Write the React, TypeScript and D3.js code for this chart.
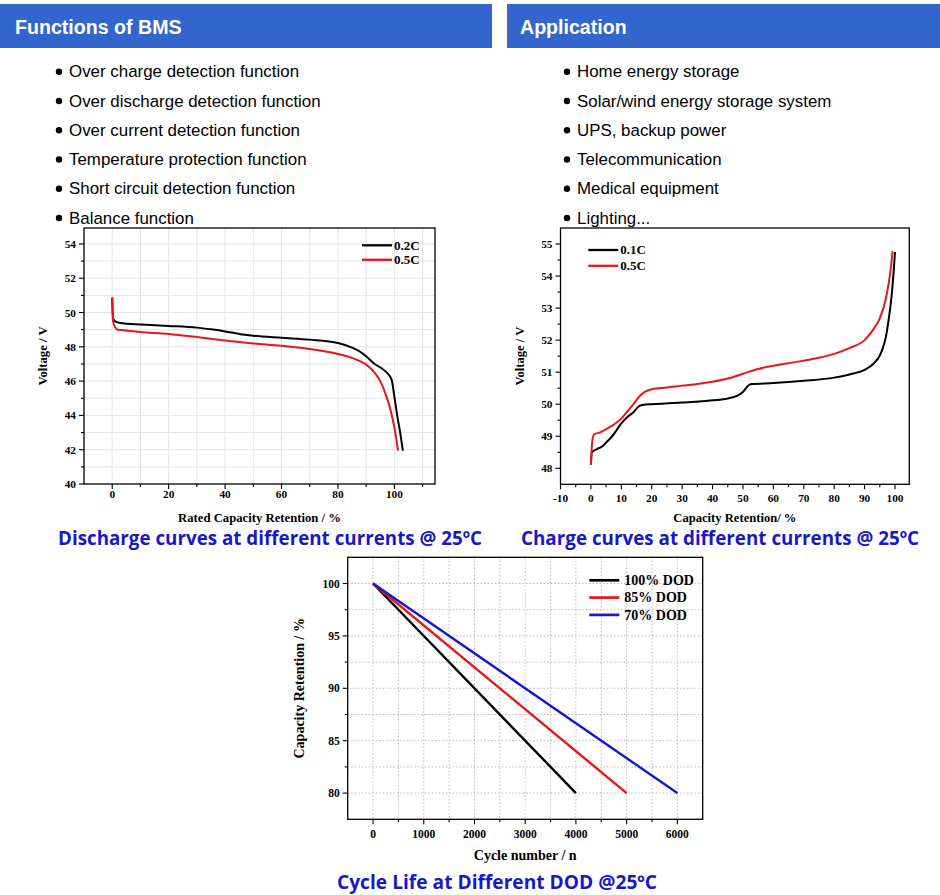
import * as d3 from 'd3'

// ---- header lists ----
const BMS_FUNCTIONS = [
  'Over charge detection function',
  'Over discharge detection function',
  'Over current detection function',
  'Temperature protection function',
  'Short circuit detection function',
  'Balance function',
]
const APPLICATIONS = [
  'Home energy storage',
  'Solar/wind energy storage system',
  'UPS, backup power',
  'Telecommunication',
  'Medical equipment',
  'Lighting...',
]

// ---- discharge curves ----
const DIS_NAMES = ['0.2C', '0.5C']
const DIS_02C_CAP = [0, 0.3, 1, 2, 5, 10, 20, 30, 35, 40, 45, 50, 60, 70, 80, 85, 88, 90, 93, 95, 97, 99, 100, 101, 102, 103]
const DIS_02C_V = [50.85, 49.65, 49.5, 49.42, 49.35, 49.3, 49.22, 49.12, 49.02, 48.9, 48.75, 48.65, 48.53, 48.42, 48.22, 47.95, 47.7, 47.45, 47.0, 46.8, 46.55, 46.1, 45.1, 44.0, 43.05, 41.95]
const DIS_05C_CAP = [0, 0.3, 1, 2, 5, 10, 20, 30, 40, 50, 60, 70, 80, 85, 88, 90, 93, 95, 97, 98.5, 100, 101.3]
const DIS_05C_V = [50.9, 49.5, 49.15, 49.0, 48.95, 48.87, 48.75, 48.57, 48.37, 48.2, 48.06, 47.87, 47.58, 47.35, 47.15, 46.96, 46.5, 46.0, 45.2, 44.4, 43.3, 41.95]
const DIS_X_MAJOR = [0, 20, 40, 60, 80, 100]
const DIS_X_MINOR = [10, 30, 50, 70, 90, 110]
const DIS_Y_MAJOR = [40, 42, 44, 46, 48, 50, 52, 54]
const DIS_Y_MINOR = [41, 43, 45, 47, 49, 51, 53]

// ---- charge curves ----
const CHG_NAMES = ['0.1C', '0.5C']
const CHG_01C_CAP = [0, 0.3, 2, 4, 5, 7, 10, 12, 14, 16, 18, 20, 30, 40, 45, 48, 50, 51, 52, 53, 60, 70, 80, 85, 90, 93, 95, 96, 97, 98, 99, 99.6, 100]
const CHG_01C_V = [48.15, 48.5, 48.6, 48.7, 48.8, 49.0, 49.4, 49.6, 49.75, 49.95, 49.99, 50.0, 50.05, 50.12, 50.18, 50.26, 50.38, 50.5, 50.6, 50.63, 50.66, 50.73, 50.83, 50.93, 51.07, 51.27, 51.52, 51.75, 52.1, 52.7, 53.5, 54.2, 54.75]
const CHG_05C_CAP = [0, 0.4, 1, 3, 5, 7, 10, 12, 14, 16, 18, 20, 25, 30, 35, 40, 45, 50, 55, 60, 65, 70, 75, 80, 85, 90, 93, 95, 97, 98.5, 99.2]
const CHG_05C_V = [48.1, 48.8, 49.05, 49.12, 49.22, 49.33, 49.55, 49.78, 50.0, 50.25, 50.4, 50.47, 50.52, 50.58, 50.63, 50.7, 50.8, 50.95, 51.1, 51.2, 51.28, 51.36, 51.45, 51.57, 51.75, 52.0, 52.35, 52.68, 53.3, 54.15, 54.78]
const CHG_X_MAJOR = [-10, 0, 10, 20, 30, 40, 50, 60, 70, 80, 90, 100]
const CHG_X_MINOR = [-5, 5, 15, 25, 35, 45, 55, 65, 75, 85, 95]
const CHG_Y_MAJOR = [48, 49, 50, 51, 52, 53, 54, 55]
const CHG_Y_MINOR = [48.5, 49.5, 50.5, 51.5, 52.5, 53.5, 54.5]

// ---- cycle life ----
const DOD_NAMES = ['100% DOD', '85% DOD', '70% DOD']
const DOD100_CYCLES = [0, 4000]
const DOD100_RET = [100, 80]
const DOD85_CYCLES = [0, 5000]
const DOD85_RET = [100, 80]
const DOD70_CYCLES = [0, 6000]
const DOD70_RET = [100, 80]
const CYC_X_MAJOR = [0, 1000, 2000, 3000, 4000, 5000, 6000]
const CYC_X_MINOR = [500, 1500, 2500, 3500, 4500, 5500]
const CYC_Y_MAJOR = [80, 85, 90, 95, 100]
const CYC_Y_MINOR = [82.5, 87.5, 92.5, 97.5]

const SERIF = "'Liberation Serif', 'Times New Roman', serif"
const SANS = "'Liberation Sans', Arial, sans-serif"
const CAPTION_FONT = "'Open Sans', 'Noto Sans', sans-serif"
const HEADER_BLUE = '#3366cc'
const CAPTION_BLUE = '#1818c8'
const BLACK = '#000000'
const RED = '#e8161b'
const BLUE = '#1515d2'

type Series = { name: string; color: string; xs: number[]; ys: number[] }

type PlotProps = {
  box: { left: number; right: number; top: number; bottom: number }
  xDomain: [number, number]
  yDomain: [number, number]
  xMajor: number[]
  xMinor: number[]
  yMajor: number[]
  yMinor: number[]
  grid: 'solid' | 'dotted' | 'none'
  series: Series[]
  curve: d3.CurveFactory
  lineWidth: number
  legend: { x: number; y: number; gap: number; size: number; textGap: number }
  xTitle: string
  yTitle: string
  xTitleY: number
  yTitleX: number
  xLabelOffset: number
  tickFont: number
  titleFont: number
}

function Plot(p: PlotProps) {
  const { box } = p
  const x = d3.scaleLinear().domain(p.xDomain).range([box.left, box.right])
  const y = d3.scaleLinear().domain(p.yDomain).range([box.bottom, box.top])
  const gridX = [...p.xMajor, ...p.xMinor].filter((v) => x(v) > box.left + 1 && x(v) < box.right - 1)
  const gridY = [...p.yMajor, ...p.yMinor].filter((v) => y(v) < box.bottom - 1 && y(v) > box.top + 1)
  const gridStyle =
    p.grid === 'solid'
      ? { stroke: '#e4e4e4', strokeWidth: 1 }
      : { stroke: '#b8b8b8', strokeWidth: 1, strokeDasharray: '1.5 2' }

  return (
    <g>
      {p.grid !== 'none' && (
        <g>
          {gridX.map((v) => (
            <line key={'gx' + v} x1={x(v)} x2={x(v)} y1={box.top} y2={box.bottom} {...gridStyle} />
          ))}
          {gridY.map((v) => (
            <line key={'gy' + v} x1={box.left} x2={box.right} y1={y(v)} y2={y(v)} {...gridStyle} />
          ))}
        </g>
      )}

      {p.series.map((s) => {
        const pts = s.xs.map((xv, i) => [xv, s.ys[i]] as [number, number])
        const line = d3
          .line<[number, number]>()
          .x((d) => x(d[0]))
          .y((d) => y(d[1]))
          .curve(p.curve)
        return (
          <path
            key={s.name}
            d={line(pts) ?? undefined}
            fill="none"
            stroke={s.color}
            strokeWidth={p.lineWidth}
            strokeLinejoin="round"
          />
        )
      })}

      <rect
        x={box.left}
        y={box.top}
        width={box.right - box.left}
        height={box.bottom - box.top}
        fill="none"
        stroke="#000"
        strokeWidth={1.3}
      />

      {p.xMajor.map((v) => (
        <g key={'xt' + v}>
          <line x1={x(v)} x2={x(v)} y1={box.bottom} y2={box.bottom + 5} stroke="#000" strokeWidth={1.1} />
          <text
            x={x(v)}
            y={box.bottom + p.xLabelOffset}
            textAnchor="middle"
            fontFamily={SERIF}
            fontWeight="bold"
            fontSize={p.tickFont}
          >
            {v}
          </text>
        </g>
      ))}
      {p.xMinor.map((v) => (
        <line key={'xm' + v} x1={x(v)} x2={x(v)} y1={box.bottom} y2={box.bottom + 3} stroke="#000" strokeWidth={1.1} />
      ))}
      {p.yMajor.map((v) => (
        <g key={'yt' + v}>
          <line x1={box.left - 5} x2={box.left} y1={y(v)} y2={y(v)} stroke="#000" strokeWidth={1.1} />
          <text
            x={box.left - 8}
            y={y(v) + 4}
            textAnchor="end"
            fontFamily={SERIF}
            fontWeight="bold"
            fontSize={p.tickFont}
          >
            {v}
          </text>
        </g>
      ))}
      {p.yMinor.map((v) => (
        <line key={'ym' + v} x1={box.left - 3} x2={box.left} y1={y(v)} y2={y(v)} stroke="#000" strokeWidth={1.1} />
      ))}

      <text
        x={(box.left + box.right) / 2}
        y={p.xTitleY}
        textAnchor="middle"
        fontFamily={SERIF}
        fontWeight="bold"
        fontSize={p.titleFont}
      >
        {p.xTitle}
      </text>
      <text
        transform={`translate(${p.yTitleX} ${(box.top + box.bottom) / 2}) rotate(-90)`}
        textAnchor="middle"
        fontFamily={SERIF}
        fontWeight="bold"
        fontSize={p.titleFont}
      >
        {p.yTitle}
      </text>

      {p.series.map((s, i) => (
        <g key={'lg' + s.name}>
          <line
            x1={p.legend.x}
            x2={p.legend.x + 30}
            y1={p.legend.y + i * p.legend.gap}
            y2={p.legend.y + i * p.legend.gap}
            stroke={s.color}
            strokeWidth={p.lineWidth + 0.3}
          />
          <text
            x={p.legend.x + p.legend.textGap}
            y={p.legend.y + i * p.legend.gap + p.legend.size * 0.33}
            fontFamily={SERIF}
            fontWeight="bold"
            fontSize={p.legend.size}
          >
            {s.name}
          </text>
        </g>
      ))}
    </g>
  )
}

function BulletList({ items, x }: { items: string[]; x: number }) {
  return (
    <g>
      {items.map((t, i) => {
        const base = 77.3 + i * 29.25
        return (
          <g key={t}>
            <circle cx={x - 10} cy={base - 5.6} r={3.2} fill="#000" />
            <text x={x} y={base} fontFamily={SANS} fontSize={16.9} fill="#000">
              {t}
            </text>
          </g>
        )
      })}
    </g>
  )
}

export default function App() {
  const disSeries: Series[] = [
    { name: DIS_NAMES[0], color: BLACK, xs: DIS_02C_CAP, ys: DIS_02C_V },
    { name: DIS_NAMES[1], color: RED, xs: DIS_05C_CAP, ys: DIS_05C_V },
  ]
  const chgSeries: Series[] = [
    { name: CHG_NAMES[0], color: BLACK, xs: CHG_01C_CAP, ys: CHG_01C_V },
    { name: CHG_NAMES[1], color: RED, xs: CHG_05C_CAP, ys: CHG_05C_V },
  ]
  const cycSeries: Series[] = [
    { name: DOD_NAMES[0], color: BLACK, xs: DOD100_CYCLES, ys: DOD100_RET },
    { name: DOD_NAMES[1], color: RED, xs: DOD85_CYCLES, ys: DOD85_RET },
    { name: DOD_NAMES[2], color: BLUE, xs: DOD70_CYCLES, ys: DOD70_RET },
  ]

  return (
    <div style={{ position: 'absolute', left: 0, top: 0, width: 940, height: 895, background: '#fff' }}>
      <svg width={940} height={895} viewBox="0 0 940 895" style={{ display: 'block' }}>
        <rect x={0} y={0} width={940} height={895} fill="#fff" />

        <rect x={0} y={4} width={492} height={44} fill={HEADER_BLUE} />
        <rect x={507} y={4} width={433} height={44} fill={HEADER_BLUE} />
        <text x={15} y={34} fontFamily={SANS} fontWeight="bold" fontSize={19.6} fill="#fff">
          Functions of BMS
        </text>
        <text x={520} y={34} fontFamily={SANS} fontWeight="bold" fontSize={19.6} fill="#fff">
          Application
        </text>

        <BulletList items={BMS_FUNCTIONS} x={69} />
        <BulletList items={APPLICATIONS} x={577} />

        <Plot
          box={{ left: 84, right: 435, top: 228, bottom: 484 }}
          xDomain={[-10, 114.4]}
          yDomain={[40, 54.93]}
          xMajor={DIS_X_MAJOR}
          xMinor={DIS_X_MINOR}
          yMajor={DIS_Y_MAJOR}
          yMinor={DIS_Y_MINOR}
          grid="solid"
          series={disSeries}
          curve={d3.curveMonotoneX}
          lineWidth={2}
          legend={{ x: 362, y: 245.3, gap: 14.5, size: 13, textGap: 32 }}
          xTitle="Rated Capacity Retention / %"
          yTitle="Voltage / V"
          xTitleY={521.5}
          yTitleX={47}
          xLabelOffset={14}
          tickFont={11.3}
          titleFont={12.7}
        />

        <Plot
          box={{ left: 560.5, right: 909.3, top: 228, bottom: 484.3 }}
          xDomain={[-10, 104.7]}
          yDomain={[47.5, 55.5]}
          xMajor={CHG_X_MAJOR}
          xMinor={CHG_X_MINOR}
          yMajor={CHG_Y_MAJOR}
          yMinor={CHG_Y_MINOR}
          grid="none"
          series={chgSeries}
          curve={d3.curveMonotoneX}
          lineWidth={2}
          legend={{ x: 588.3, y: 250, gap: 15.8, size: 13, textGap: 32 }}
          xTitle="Capacity Retention/ %"
          yTitle="Voltage / V"
          xTitleY={521.5}
          yTitleX={524}
          xLabelOffset={17.5}
          tickFont={11.3}
          titleFont={12.6}
        />

        <Plot
          box={{ left: 347.7, right: 702.7, top: 557.3, bottom: 819.3 }}
          xDomain={[-500, 6500]}
          yDomain={[77.5, 102.5]}
          xMajor={CYC_X_MAJOR}
          xMinor={CYC_X_MINOR}
          yMajor={CYC_Y_MAJOR}
          yMinor={CYC_Y_MINOR}
          grid="dotted"
          series={cycSeries}
          curve={d3.curveLinear}
          lineWidth={2.4}
          legend={{ x: 589.3, y: 580.3, gap: 17.3, size: 14, textGap: 35 }}
          xTitle="Cycle number / n"
          yTitle="Capacity Retention / %"
          xTitleY={860}
          yTitleX={304}
          xLabelOffset={18.5}
          tickFont={11.5}
          titleFont={14}
        />

        <text
          x={58}
          y={545}
          fontFamily={CAPTION_FONT}
          fontWeight={700}
          fontSize={19.5}
          fill={CAPTION_BLUE}
          textLength={424}
          lengthAdjust="spacingAndGlyphs"
        >
          Discharge curves at different currents @ 25ºC
        </text>
        <text
          x={521}
          y={545}
          fontFamily={CAPTION_FONT}
          fontWeight={700}
          fontSize={19.5}
          fill={CAPTION_BLUE}
          textLength={398}
          lengthAdjust="spacingAndGlyphs"
        >
          Charge curves at different currents @ 25ºC
        </text>
        <text
          x={337}
          y={889}
          fontFamily={CAPTION_FONT}
          fontWeight={700}
          fontSize={19}
          fill={CAPTION_BLUE}
          textLength={320}
          lengthAdjust="spacingAndGlyphs"
        >
          Cycle Life at Different DOD @25ºC
        </text>
      </svg>
    </div>
  )
}
